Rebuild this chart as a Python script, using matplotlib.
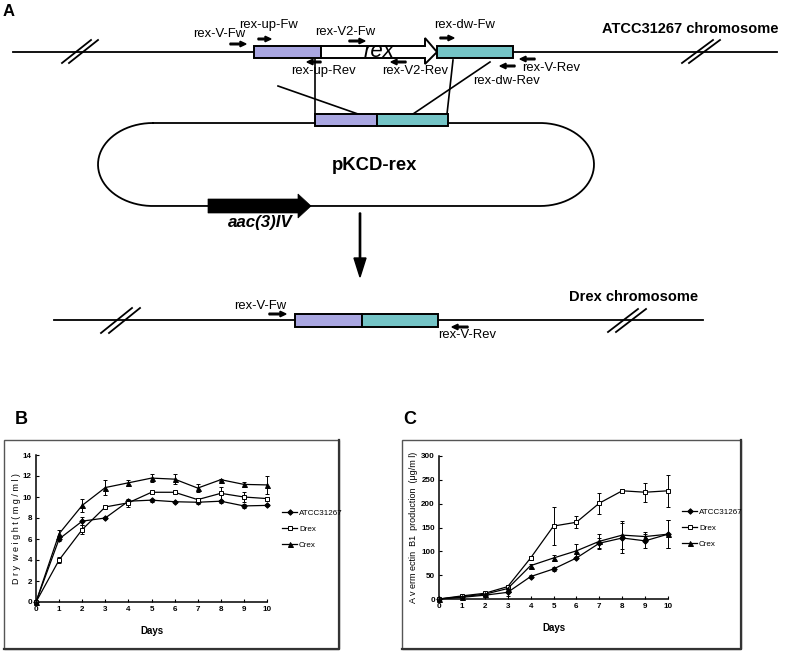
import numpy as np
import matplotlib
matplotlib.use("Agg")
import matplotlib.pyplot as plt
from matplotlib.patches import Rectangle, Polygon, FancyArrow
from matplotlib.lines import Line2D
from matplotlib import font_manager

# ---- data ----
days = [0, 1, 2, 3, 4, 5, 6, 7, 8, 9, 10]

# panel B: dry weight (mg/ml)
atcc_dw = [0, 6.0, 7.7, 8.0, 9.6, 9.7, 9.55, 9.5, 9.6, 9.15, 9.2]
atcc_dw_err = [0, 0.2, 0.4, 0.1, 0.15, 0.15, 0.1, 0.2, 0.15, 0.2, 0.1]
drex_dw = [0, 4.0, 6.9, 9.05, 9.45, 10.45, 10.45, 9.75, 10.35, 10.0, 9.85]
drex_dw_err = [0, 0.25, 0.4, 0.1, 0.4, 0.1, 0.1, 0.2, 0.6, 0.5, 0.15]
crex_dw = [0, 6.5, 9.2, 10.9, 11.35, 11.8, 11.7, 10.85, 11.65, 11.2, 11.15]
crex_dw_err = [0, 0.4, 0.6, 0.7, 0.3, 0.35, 0.45, 0.4, 0.1, 0.2, 0.85]

# panel C: avermectin B1 production (ug/ml)
atcc_av = [0, 3.5, 8, 14, 47, 63, 86, 117, 128, 122, 136]
atcc_av_err = [0, 1, 2, 8, 3, 4, 3, 12, 32, 15, 30]
drex_av = [0, 6.5, 12, 26, 86, 153, 161, 201, 227, 224, 227]
drex_av_err = [0, 2, 3, 4, 5, 40, 13, 22, 3, 20, 33]
crex_av = [0, 5, 10, 22, 70, 86, 101, 121, 134, 131, 136]
crex_av_err = [0, 1, 2, 3, 4, 6, 15, 15, 30, 10, 30]

strains = ["ATCC31267", "Drex", "Crex"]
dw_ticks = [0, 2, 4, 6, 8, 10, 12, 14]
av_ticks = [0, 50, 100, 150, 200, 250, 300]

PURPLE = "#a9a6e1"
TEAL = "#74c4c6"


def narrow_font():
    try:
        font_manager.findfont("Liberation Sans Narrow", fallback_to_default=False)
        return "Liberation Sans Narrow"
    except ValueError:
        return "Liberation Sans"


plt.rcParams["font.family"] = ["Liberation Sans", "DejaVu Sans"]
NARROW = [narrow_font(), "DejaVu Sans"]

fig = plt.figure(figsize=(7.87, 6.52), dpi=100)

# schematic drawn in pixel coordinates
sk = fig.add_axes([0, 0, 1, 1])
sk.set_xlim(0, 787)
sk.set_ylim(652, 0)
sk.axis("off")


def box(x0, x1, y0, y1, color):
    sk.add_patch(Rectangle((x0, y0), x1 - x0, y1 - y0, fc=color, ec="black", lw=1.4, zorder=3))


def primer(x_tail, x_tip, y):
    sk.add_patch(FancyArrow(x_tail, y, x_tip - x_tail, 0, width=1.6, head_width=5.5,
                            head_length=6, length_includes_head=True, color="black", zorder=4))


def label(x, y, s, size=9.4, **kw):
    sk.text(x, y, s, fontsize=size, ha="center", va="center", zorder=5, **kw)


def brk(x0, y0, x1, y1, shift=7):
    sk.plot([x0, x1], [y0, y1], color="black", lw=1.3, zorder=2)
    sk.plot([x0 + shift, x1 + shift], [y0, y1], color="black", lw=1.3, zorder=2)


sk.text(3, 11, "A", fontsize=12, fontweight="bold", va="center")
sk.text(15, 420, "B", fontsize=13, fontweight="bold", va="center")
sk.text(403, 420, "C", fontsize=13, fontweight="bold", va="center")

# top chromosome
sk.plot([13, 777], [52, 52], color="black", lw=1.3, zorder=1)
brk(62, 63, 91, 40)
brk(682, 63, 713, 40)
box(254, 321, 46, 58, PURPLE)
sk.add_patch(Polygon([(321, 46), (425, 46), (425, 38), (437, 52), (425, 64), (425, 58), (321, 58)],
                     closed=True, fc="white", ec="black", lw=1.4, zorder=3))
box(437, 513, 46, 58, TEAL)
sk.text(379, 57, "rex", fontsize=16, style="italic", ha="center", va="baseline", zorder=5)
label(690, 29, "ATCC31267 chromosome", size=10.5, fontweight="bold")

primer(230, 246, 44)
primer(258, 271, 39)
primer(349, 365, 41)
primer(440, 454, 38)
primer(321, 307, 62)
primer(406, 391, 62)
primer(515, 500, 66)
primer(535, 520, 59)
label(219, 34, "rex-V-Fw")
label(268, 25, "rex-up-Fw")
label(345, 32, "rex-V2-Fw")
label(465, 25, "rex-dw-Fw")
label(323, 71, "rex-up-Rev")
label(415, 71, "rex-V2-Rev")
label(507, 81, "rex-dw-Rev")
label(551, 68, "rex-V-Rev")

# crossover lines
for (x0, y0, x1, y1) in [(315, 58, 315, 114), (278, 86, 358, 114),
                         (453, 60, 447, 114), (490, 62, 413, 114)]:
    sk.plot([x0, x1], [y0, y1], color="black", lw=1.2, zorder=2)

# plasmid
t = np.linspace(-np.pi / 2, np.pi / 2, 80)
px = np.concatenate([[153, 540], 540 + 54 * np.cos(t), [540, 153], 153 - 55 * np.cos(t[::-1])])
py = np.concatenate([[123, 123], 164.5 + 41.5 * np.sin(t), [206, 206], 164.5 + 41.5 * np.sin(t[::-1])])
sk.plot(px, py, color="black", lw=1.3, zorder=1)
box(315, 377, 114, 126, PURPLE)
box(377, 448, 114, 126, TEAL)
label(375, 166, "pKCD-rex", size=13.3, fontweight="bold")
sk.add_patch(Polygon([(208, 199), (298, 199), (298, 194), (311, 206), (298, 218), (298, 213), (208, 213)],
                     closed=True, fc="black", ec="black", lw=0.5, zorder=3))
label(260, 223, "aac(3)IV", size=12.2, fontweight="bold", style="italic")

# recombination arrow
sk.add_patch(FancyArrow(360, 213, 0, 64, width=1.3, head_width=12, head_length=19,
                        length_includes_head=True, color="black", zorder=3))

# Drex chromosome
sk.plot([54, 703], [320, 320], color="black", lw=1.3, zorder=1)
brk(101, 333, 132, 308, shift=8)
brk(608, 332, 638, 309, shift=8)
box(295, 362, 314, 327, PURPLE)
box(362, 438, 314, 327, TEAL)
primer(269, 286, 314)
primer(468, 452, 327)
label(260, 306, "rex-V-Fw")
label(467, 335, "rex-V-Rev")
label(634, 297, "Drex chromosome", size=10.5, fontweight="bold")

# frames around B and C
for (x0, x1) in [(4, 339), (402, 741)]:
    sk.add_patch(Rectangle((x0, 440), x1 - x0, 209, fill=False, ec="#555555", lw=1.0, zorder=1))
    sk.plot([x0, x1, x1], [649, 649, 440], color="#333333", lw=1.6, zorder=1)


def draw_panel(ax, series, ymax, yticks, ylabel, leg_anchor, ypad):
    styles = [("D", "black", 2.8), ("s", "white", 3.4), ("^", "black", 3.6)]
    handles = []
    for (vals, errs), (mk, face, ms), name in zip(series, styles, strains):
        ax.errorbar(days, vals, yerr=errs, color="black", lw=0.9, marker=mk, ms=ms,
                    mfc=face, mec="black", mew=0.7, elinewidth=0.7, capsize=1.5,
                    capthick=0.7, clip_on=False, zorder=3)
        handles.append(Line2D([], [], color="black", lw=0.9, marker=mk, ms=ms,
                              mfc=face, mec="black", mew=0.7, label=name))
    ax.set_xlim(0, 10)
    ax.set_ylim(0, ymax)
    ax.set_xticks(days)
    ax.set_yticks(yticks)
    ax.set_facecolor("none")
    for side in ["top", "right"]:
        ax.spines[side].set_visible(False)
    for side in ["left", "bottom"]:
        ax.spines[side].set_linewidth(1.1)
    ax.tick_params(direction="in", length=2.5, width=0.8, pad=3, labelsize=5.8)
    for lab in ax.get_xticklabels() + ax.get_yticklabels():
        lab.set_family(NARROW)
        lab.set_fontweight("bold")
    ax.set_xlabel("Days", fontsize=7, family=NARROW, fontweight="bold", labelpad=9)
    ax.set_ylabel(ylabel, fontsize=6.5, family=NARROW, labelpad=ypad)
    fig.legend(handles=handles, loc="center left", bbox_to_anchor=leg_anchor,
               frameon=False, prop={"family": NARROW, "size": 5.8}, handlelength=1.9,
               handletextpad=0.2, labelspacing=1.0, borderpad=0, borderaxespad=0)


axb = fig.add_axes([36 / 787, 1 - 602 / 652, 231 / 787, 147 / 652])
draw_panel(axb, [(atcc_dw, atcc_dw_err), (drex_dw, drex_dw_err), (crex_dw, crex_dw_err)],
           14, dw_ticks, "D r y  w e i g h t ( m g / m l )", (282 / 787, 1 - 529 / 652), 1)

axc = fig.add_axes([439 / 787, 1 - 599 / 652, 229 / 787, 143 / 652])
draw_panel(axc, [(atcc_av, atcc_av_err), (drex_av, drex_av_err), (crex_av, crex_av_err)],
           300, av_ticks, "A v erm ectin  B1  production  (\u03bcg/m l)", (682 / 787, 1 - 528 / 652), 2)

fig.savefig("out.png", dpi=100)
